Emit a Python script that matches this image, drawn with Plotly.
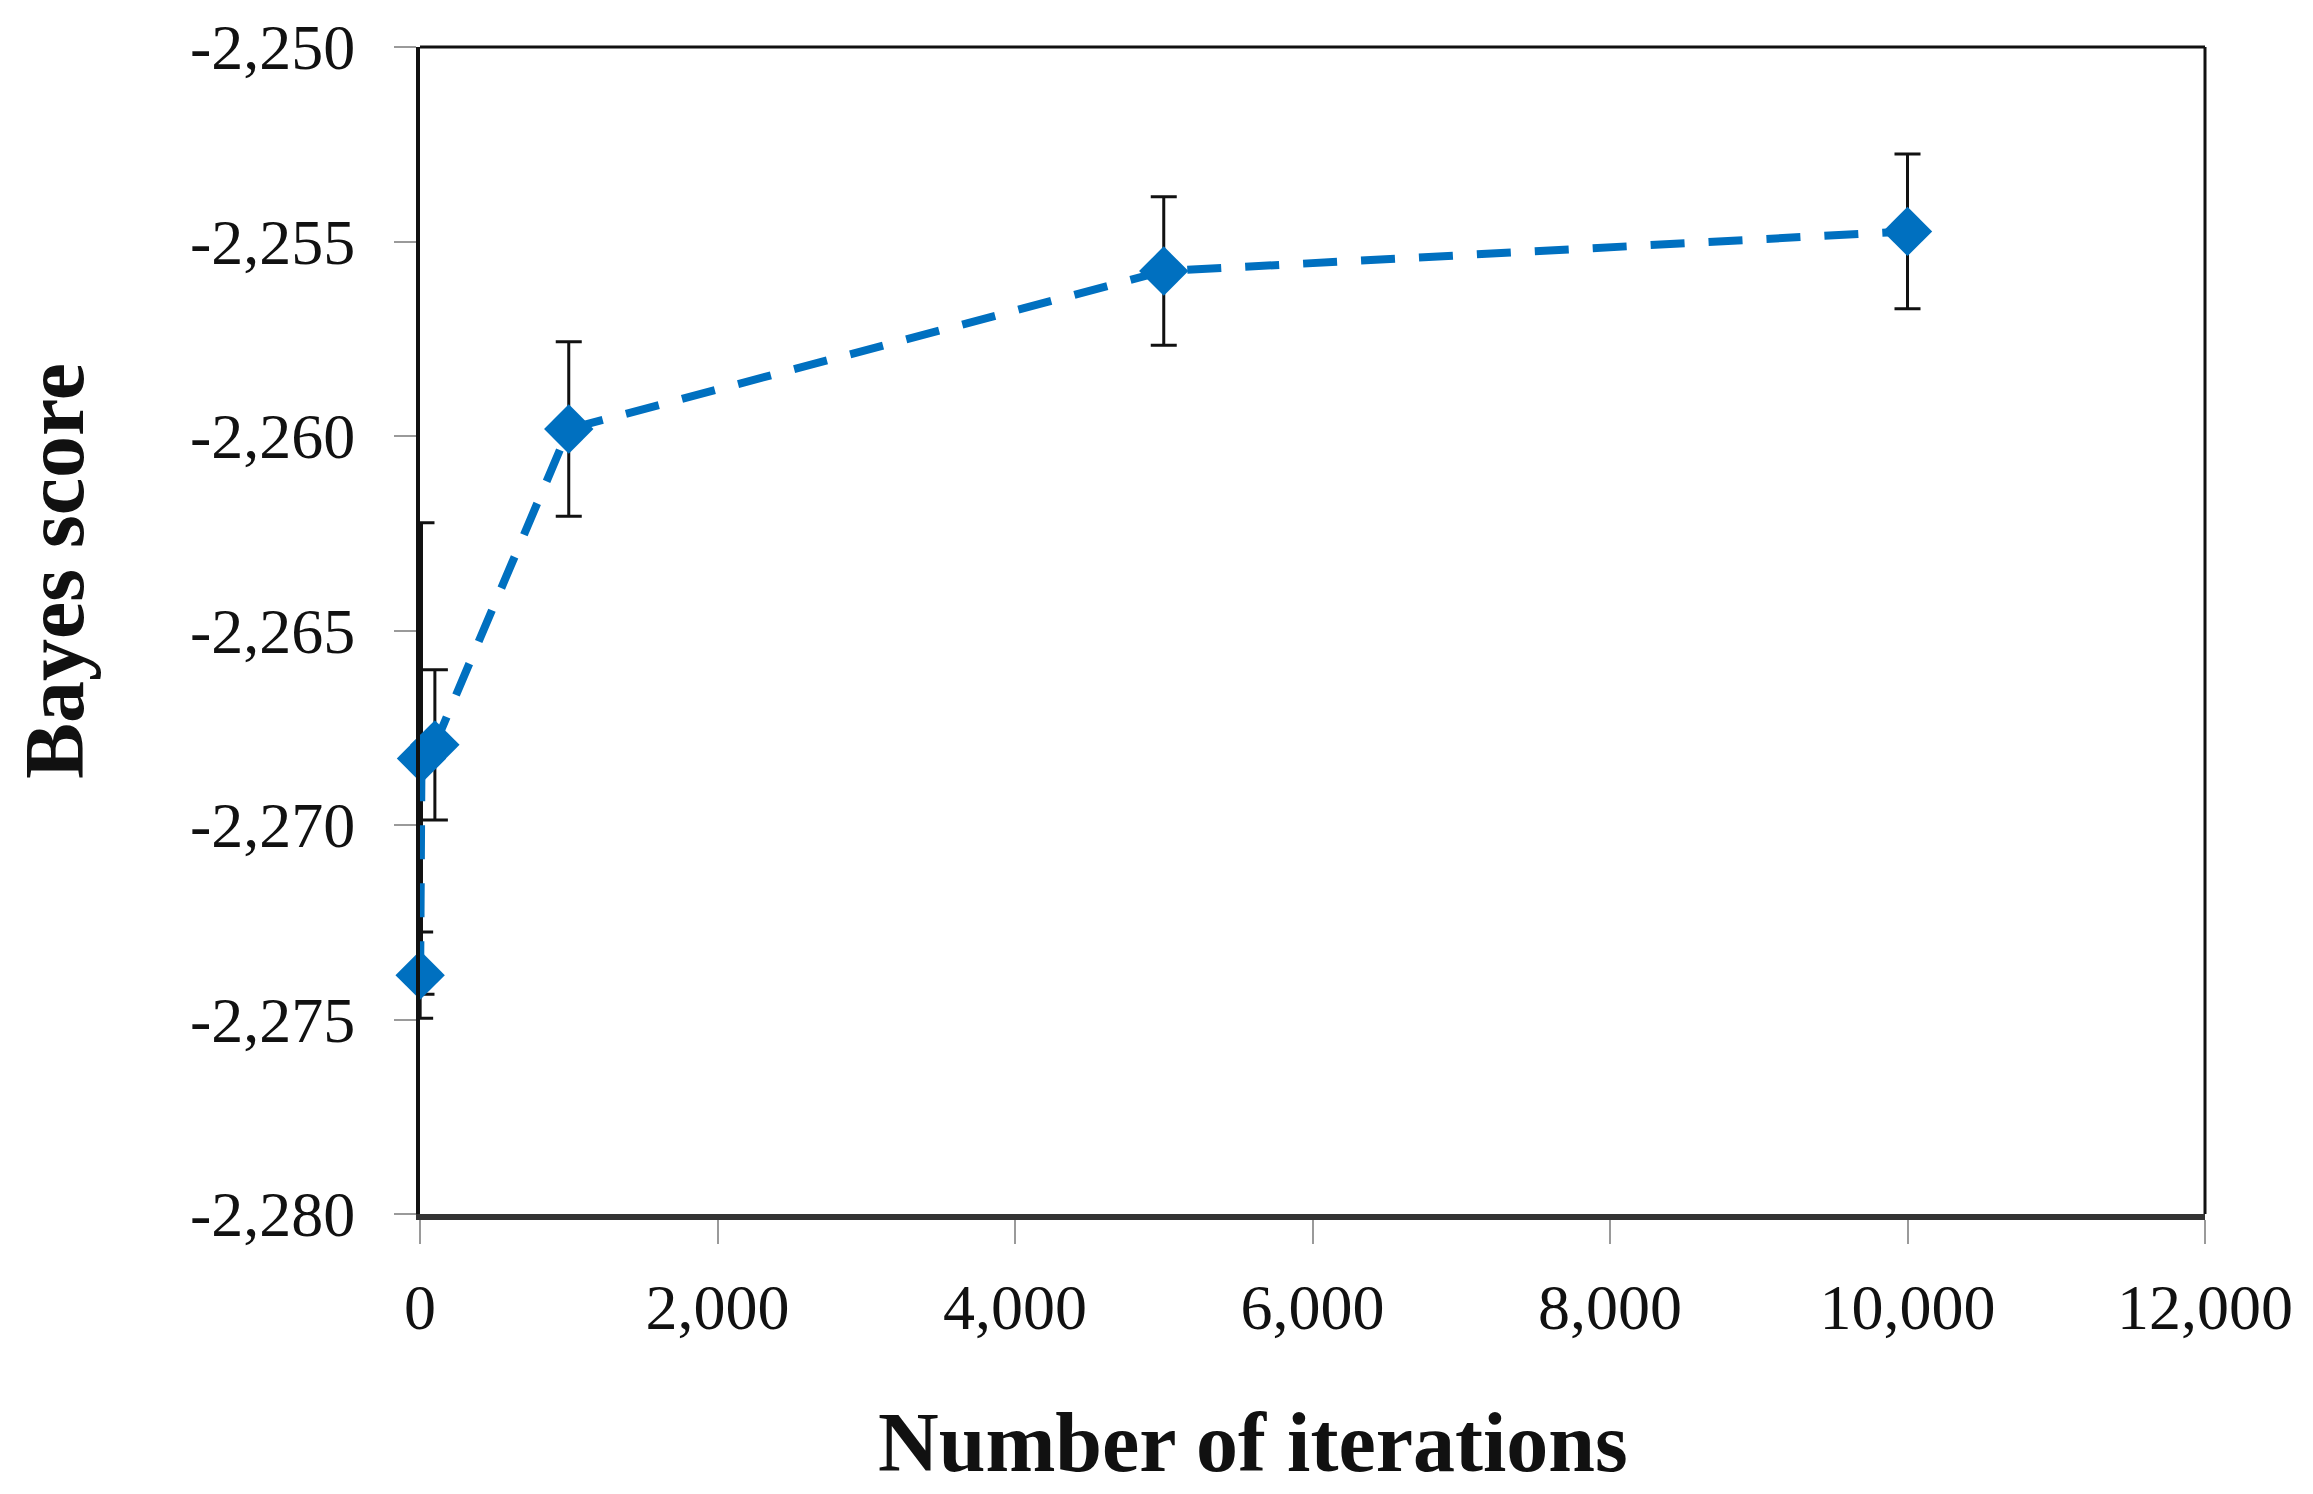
import plotly.graph_objects as go

# Data
iterations = [1, 10, 100, 1000, 5000, 10000]
bayes_score = [-2273.86, -2268.29, -2267.94, -2259.82, -2255.76, -2254.74]
score_error = [1.11, 6.06, 1.93, 2.24, 1.91, 1.99]

y_tick_values = [-2280, -2275, -2270, -2265, -2260, -2255, -2250]
y_tick_labels = ["-2,280", "-2,275", "-2,270", "-2,265", "-2,260", "-2,255", "-2,250"]
x_tick_values = [0, 2000, 4000, 6000, 8000, 10000, 12000]
x_tick_labels = ["0", "2,000", "4,000", "6,000", "8,000", "10,000", "12,000"]

x_title = "Number of iterations"
y_title = "Bayes score"

BLUE = "#0070C0"
FONT = "Liberation Serif"

# plot-area edges in page pixels (body margin removed below)
L, R, T, B = 420, 2205, 47, 1214
W, H = 2313, 1494

fig = go.Figure()
fig.add_trace(go.Scatter(
    x=iterations,
    y=bayes_score,
    mode="lines+markers",
    line=dict(color=BLUE, width=8, dash="34px,24px"),
    marker=dict(symbol="diamond", size=38, color=BLUE),
    error_y=dict(type="data", array=score_error, visible=True,
                 color="#111111", thickness=3, width=13),
    cliponaxis=False,
    showlegend=False,
))

fig.update_layout(
    width=W,
    height=H,
    margin=dict(l=L, r=W - R, t=T, b=H - B, autoexpand=False),
    paper_bgcolor="white",
    plot_bgcolor="white",
    font=dict(family=FONT, size=64, color="#111111"),
    xaxis=dict(
        range=[0, 12000],
        tickvals=x_tick_values,
        ticktext=x_tick_labels,
        showgrid=False,
        zeroline=False,
        showline=True,
        linecolor="#333333",
        linewidth=6,
        ticks="outside",
        ticklen=24,
        tickwidth=2,
        tickcolor="#9a9a9a",
        ticklabelstandoff=8,
    ),
    yaxis=dict(
        range=[-2280, -2250],
        tickvals=y_tick_values,
        ticktext=y_tick_labels,
        showgrid=False,
        zeroline=False,
        showline=True,
        linecolor="#111111",
        linewidth=4,
        ticks="outside",
        ticklen=22,
        tickwidth=2,
        tickcolor="#9a9a9a",
        ticklabelstandoff=26,
    ),
    shapes=[
        dict(type="line", xref="paper", yref="paper", x0=0, x1=1, y0=1, y1=1,
             line=dict(color="#111111", width=3)),
        dict(type="line", xref="paper", yref="paper", x0=1, x1=1, y0=0, y1=1,
             line=dict(color="#111111", width=3)),
    ],
    annotations=[
        dict(text="<b>" + x_title + "</b>", xref="paper", yref="paper",
             x=(1253 - L) / (R - L), y=-(1442 - B) / (B - T),
             xanchor="center", yanchor="middle", showarrow=False,
             font=dict(family=FONT, size=84, color="#111111")),
        dict(text="<b>" + y_title + "</b>", xref="paper", yref="paper",
             x=-(L - 54) / (R - L), y=(B - 571) / (B - T),
             xanchor="center", yanchor="middle", textangle=-90, showarrow=False,
             font=dict(family=FONT, size=84, color="#111111")),
    ],
)

fig.write_html(
    "out.html",
    config={"displayModeBar": False},
    post_script="document.body.style.margin='0';document.body.style.overflow='hidden';",
)
